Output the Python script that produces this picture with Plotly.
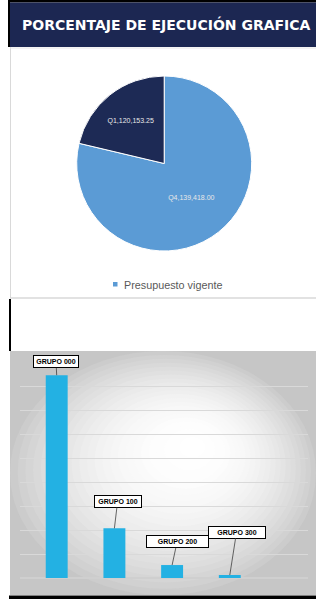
import plotly.graph_objects as go

W, H = 316, 601

# ---------------- data ----------------
title_text = "PORCENTAJE DE EJECUCIÓN GRAFICA"
series_name = "Presupuesto vigente"
pie_labels = ["Q4", "Q1"]
pie_values = [4139418.00, 1120153.25]
pie_colors = ["#5B9BD5", "#1D2A55"]

groups = ["GRUPO 000", "GRUPO 100", "GRUPO 200", "GRUPO 300"]
group_values = [4225000, 1035000, 270000, 62000]
bar_color = "#23B1E3"


def px(x):
    return x / W


def py(y):
    return 1 - y / H


fig = go.Figure()

# pie
cx, cy, r = 164.2, 163.5, 87.5
fig.add_trace(go.Pie(
    labels=pie_labels, values=pie_values, name=series_name,
    sort=False, direction="clockwise", rotation=0,
    marker=dict(colors=pie_colors, line=dict(color="white", width=1)),
    texttemplate="Q%{value:,.2f}", textposition="inside",
    insidetextorientation="horizontal",
    textfont=dict(family="Liberation Sans", size=7, color="#E8E8E8"),
    domain=dict(x=[px(cx - r), px(cx + r)], y=[py(cy + r), py(cy - r)]),
    showlegend=False, hoverinfo="skip",
))

# bars
fig.add_trace(go.Bar(
    x=groups, y=group_values, marker=dict(color=bar_color, line=dict(width=0)),
    width=0.38, showlegend=False, hoverinfo="skip", xaxis="x", yaxis="y",
))

shapes = []
# banner
shapes.append(dict(type="rect", xref="paper", yref="paper", x0=px(8), x1=px(316), y0=py(0), y1=py(2.5),
                   fillcolor="black", line=dict(width=0), layer="below"))
shapes.append(dict(type="rect", xref="paper", yref="paper", x0=px(8), x1=px(10), y0=py(0), y1=py(47),
                   fillcolor="black", line=dict(width=0), layer="below"))
shapes.append(dict(type="rect", xref="paper", yref="paper", x0=px(10), x1=px(316), y0=py(2.5), y1=py(47),
                   fillcolor="#1C2752", line=dict(width=0), layer="below"))
# pie panel borders
shapes.append(dict(type="line", xref="paper", yref="paper", x0=px(10.5), x1=px(10.5), y0=py(47), y1=py(298),
                   line=dict(color="#D9D9D9", width=1), layer="below"))
shapes.append(dict(type="line", xref="paper", yref="paper", x0=px(10), x1=px(316), y0=py(298), y1=py(298),
                   line=dict(color="#D9D9D9", width=1.5), layer="below"))
shapes.append(dict(type="line", xref="paper", yref="paper", x0=px(10), x1=px(316), y0=py(48), y1=py(48),
                   line=dict(color="#E6E6E6", width=1), layer="below"))
# black left bar between panels
shapes.append(dict(type="rect", xref="paper", yref="paper", x0=px(9), x1=px(11), y0=py(299), y1=py(351),
                   fillcolor="black", line=dict(width=0), layer="below"))

# bar panel gradient background
bx0, bx1, by0, by1 = 10, 316, 351, 595
shapes.append(dict(type="rect", xref="paper", yref="paper", x0=px(bx0), x1=px(bx1), y0=py(by0), y1=py(by1),
                   fillcolor="#C6C6C6", line=dict(width=0), layer="below"))
gcx, gcy = 195, 445
N = 24
for k in range(N):
    t = k / N
    x0 = bx0 + (gcx - bx0) * t
    x1 = bx1 + (gcx - bx1) * t
    y0 = by0 + (gcy - by0) * t
    y1 = by1 + (gcy - by1) * t
    v = int(round(255 - (255 - 204) * (1 - t) ** 2.2))
    shapes.append(dict(type="circle", xref="paper", yref="paper", x0=px(x0), x1=px(x1), y0=py(y0), y1=py(y1),
                       fillcolor=f"rgb({v},{v},{v})", line=dict(width=0), layer="below"))
# bottom black line
shapes.append(dict(type="rect", xref="paper", yref="paper", x0=px(9), x1=px(316), y0=py(595.5), y1=py(599),
                   fillcolor="black", line=dict(width=0), layer="below"))
# legend marker
shapes.append(dict(type="rect", xref="paper", yref="paper", x0=px(113), x1=px(117.5), y0=py(282), y1=py(286.5),
                   fillcolor=pie_colors[0], line=dict(width=0), layer="above"))

annotations = []
annotations.append(dict(text=title_text, xref="paper", yref="paper", x=px(166.5), y=py(24.5),
                        xanchor="center", yanchor="middle", showarrow=False,
                        font=dict(family="DejaVu Sans", size=14, color="white", weight="bold")))
annotations.append(dict(text=series_name, xref="paper", yref="paper", x=px(121.5), y=py(284.5),
                        xanchor="left", yanchor="middle", showarrow=False,
                        font=dict(family="Liberation Sans", size=10.8, color="#595959")))

offsets = [(-0.7, -13.3), (3.2, -26.8), (5, -23.2), (6.7, -42.7)]
box_widths = [40, 42, 57, 52]
for g, v, (ax, ay), bw in zip(groups, group_values, offsets, box_widths):
    annotations.append(dict(text=f"<b>{g}</b>", x=g, y=v, xref="x", yref="y",
                            ax=ax, ay=ay, showarrow=True, arrowhead=0, arrowwidth=0.8,
                            arrowcolor="#404040", bgcolor="white", bordercolor="black",
                            borderwidth=1, borderpad=2, width=bw, align="center",
                            font=dict(family="Liberation Sans", size=7, color="black")))

fig.update_layout(
    width=W, height=H, margin=dict(l=0, r=0, t=0, b=0),
    paper_bgcolor="white", plot_bgcolor="rgba(0,0,0,0)",
    shapes=shapes, annotations=annotations,
    xaxis=dict(domain=[px(20), px(308)], range=[-0.636, 4.355], showticklabels=False,
               showgrid=False, zeroline=False, showline=False, ticks="", fixedrange=True),
    yaxis=dict(domain=[py(578), py(364.4)], range=[0, 4450000], dtick=500000,
               showticklabels=False, showgrid=True, gridcolor="#D9D9D9", gridwidth=1,
               zeroline=True, zerolinecolor="#CFCFCF", zerolinewidth=1.5, ticks="", fixedrange=True),
    bargap=0.62,
)

fig.write_html("out.html", config={"displayModeBar": False},
               post_script="document.body.style.margin='0';document.body.style.overflow='hidden';")
